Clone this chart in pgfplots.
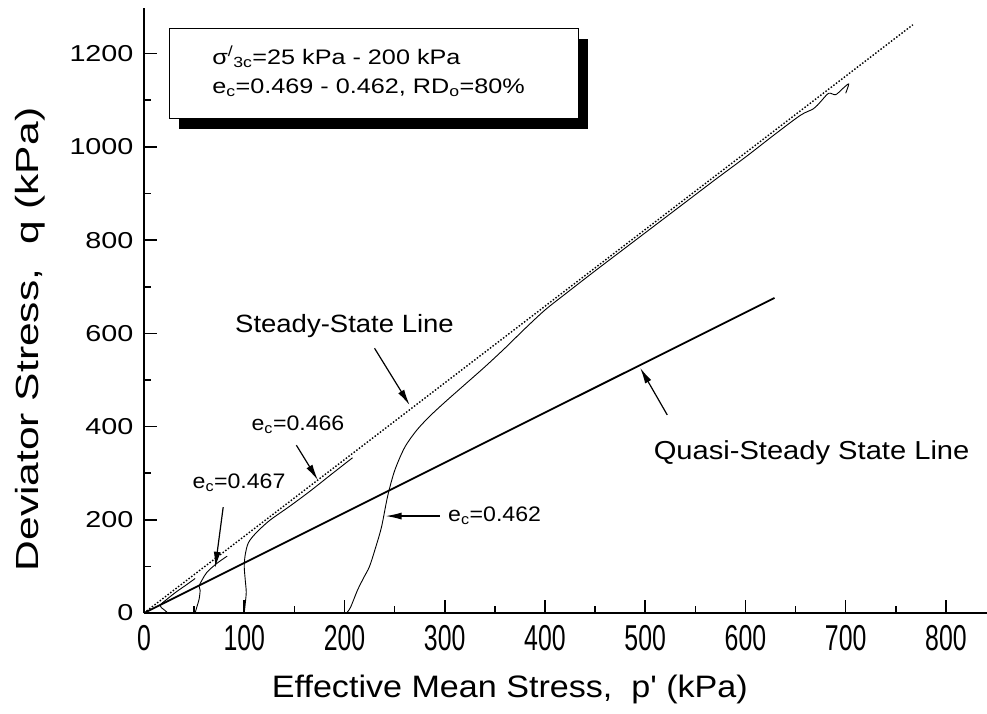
\documentclass[border=0pt]{standalone}
\usepackage{pgfplots}
\pgfplotsset{compat=1.18}
\usepackage{fontspec}
\setmainfont{Liberation Sans}
\newfontfamily\widesans[FakeStretch=1.2]{Liberation Sans}
\newfontfamily\ytsans[FakeStretch=1.25]{Liberation Sans}
\newfontfamily\annsans[FakeStretch=1.1]{Liberation Sans}
\newfontfamily\qsans[FakeStretch=1.12]{Liberation Sans}
\newfontfamily\narrowsans[FakeStretch=0.69]{Liberation Sans}
\newfontfamily\ylabsans[FakeStretch=1.33]{Liberation Sans}
\newfontfamily\xlabsans[FakeStretch=1.1]{Liberation Sans}
\usetikzlibrary{arrows.meta}
\begin{document}
\begin{tikzpicture}
\begin{axis}[
  scale only axis, width=843pt, height=605pt,
  xmin=0, xmax=841, ymin=0, ymax=1298,
  axis x line=bottom, axis y line=left,
  axis line style={line width=2pt,-},
  xtick={0,100,...,800}, minor xtick={50,150,...,850},
  ytick={0,200,...,1200}, minor ytick={100,300,...,1300},
  tick align=inside,
  major tick length=13pt, minor tick length=7pt,
  every tick/.style={line width=1.6pt, black},
  /pgf/number format/assume math mode=true,
  /pgf/number format/1000 sep={},
  xticklabel style={font=\narrowsans\fontsize{36}{40}\selectfont, yshift=-9pt},
  yticklabel style={font=\ytsans\fontsize{23}{27}\selectfont, xshift=-7pt},
  xlabel={Effective Mean Stress,\ \ p' (kPa)},
  ylabel={Deviator Stress,\ \ q (kPa)},
  xlabel style={font=\xlabsans\fontsize{31}{36}\selectfont, at={(axis description cs:0.434,-0.127)}, anchor=center},
  ylabel style={font=\ylabsans\fontsize{32}{36}\selectfont, at={(axis description cs:-0.135,0.452)}, anchor=center},
  clip=false,
]
% Steady-state line
\addplot[black, line width=1.4pt, dash pattern=on 1.5pt off 1.8pt] coordinates {(0,0) (767,1262)};
% Quasi-steady state line
\addplot[black, line width=1.8pt] coordinates {(0,0) (629,676)};
% e_c=0.469
\addplot[black, line width=0.9pt, smooth] coordinates {(24,0) (20,7) (16,16) (22,28) (32,45) (42,60) (51,74)};
% e_c=0.467
\addplot[black, line width=0.9pt, smooth] coordinates {(51,0) (53,15) (55,30) (56,49) (55,58) (58,71) (63,88) (73,107) (83,122)};
% e_c=0.466
\addplot[black, line width=0.9pt, smooth] coordinates {(100,0) (101,20) (102,45) (101,71) (100,100) (101,125) (104,150) (111,170) (125,198) (146,230) (166,262) (186,296) (208,333)};
% e_c=0.462
\addplot[black, line width=0.9pt, smooth] coordinates {(202,0) (206,12) (213,49) (219,75) (225,100) (231,140) (237,185) (243,250) (250,305) (260,355) (272,392) (285,422) (300,452) (320,490) (340,528) (360,568) (380,610) (400,650) (420,684) (450,734) (480,783) (510,832) (540,881) (570,930) (600,978) (630,1028) (655,1068) (668,1082) (675,1097) (683,1115) (690,1112) (697,1125) (703,1135) (700,1115)};
% legend box
\fill[black] (axis cs:35,1039) rectangle (axis cs:443,1232);
\filldraw[fill=white, draw=black, line width=1pt] (axis cs:25,1060) rectangle (axis cs:433,1253);
\node[anchor=west, font=\widesans\fontsize{21}{25}\selectfont, inner sep=0pt] at (axis cs:68,1193) {σ\textsuperscript{/}\textsubscript{3c}=25 kPa - 200 kPa};
\node[anchor=west, font=\widesans\fontsize{21}{25}\selectfont, inner sep=0pt] at (axis cs:68,1126) {e\textsubscript{c}=0.469 - 0.462, RD\textsubscript{o}=80\%};
% annotations
\node[font=\annsans\fontsize{25}{30}\selectfont] at (axis cs:200,616) {Steady-State Line};
\draw[-{Latex[length=16pt,width=7pt]}, line width=1.2pt] (axis cs:230,568) -- (axis cs:265,446);
\node[font=\annsans\fontsize{21}{25}\selectfont] at (axis cs:153.6,403) {e\textsubscript{c}=0.466};
\draw[-{Latex[length=16pt,width=7pt]}, line width=1.2pt] (axis cs:152,360) -- (axis cs:173.5,285);
\node[font=\annsans\fontsize{21}{25}\selectfont] at (axis cs:94.8,279) {e\textsubscript{c}=0.467};
\draw[-{Latex[length=16pt,width=7pt]}, line width=1.2pt] (axis cs:79,227) -- (axis cs:71,97);
\node[anchor=west, font=\annsans\fontsize{21}{25}\selectfont] at (axis cs:300,208) {e\textsubscript{c}=0.462};
\draw[-{Latex[length=16pt,width=7pt]}, line width=1.2pt] (axis cs:295,208) -- (axis cs:241,208);
\node[font=\qsans\fontsize{26}{30}\selectfont] at (axis cs:666,343) {Quasi-Steady State Line};
\draw[-{Latex[length=16pt,width=7pt]}, line width=1.2pt] (axis cs:522,425) -- (axis cs:495,526);
\end{axis}
\pgfresetboundingbox
\path (-144pt,-100pt) rectangle (843pt,613pt);
\end{tikzpicture}
\end{document}
